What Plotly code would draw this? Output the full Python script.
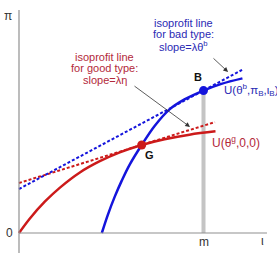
import plotly.graph_objects as go

# ---- data (units: iota horizontally, pi vertically) ----
m = 10.0
red_iota = [0, 0.59, 1.41, 2.22, 3.30, 4.38, 5.46, 6.65, 7.89, 9.24, 10.65]
red_pi = [0, 0.79, 1.71, 2.46, 3.28, 3.89, 4.37, 4.77, 5.08, 5.33, 5.51]
blue_iota = [4.49, 4.81, 5.19, 5.57, 6.0, 6.65, 7.35, 8.16, 8.97, 10.0, 10.97, 12.11]
blue_pi = [0, 0.97, 1.97, 2.84, 3.71, 4.77, 5.80, 6.70, 7.24, 7.72, 8.08, 8.38]
red_iso_iota = [0, 10.62]
red_iso_pi = [2.71, 6.01]
blue_iso_iota = [0, 12.09]
blue_iso_pi = [2.385, 8.84]
point_B = (10.0, 7.72)
point_G = (6.65, 4.77)

RED = "#cc1a1a"
BLUE = "#1414dc"
RED_TXT = "#b3283a"
BLUE_TXT = "#2a2ab4"
FONT = "Liberation Sans, Arial, sans-serif"

s = 18.45  # px per unit
fig = go.Figure()

# gray m line
fig.add_trace(go.Scatter(x=[m, m], y=[0, point_B[1]], mode="lines",
                         line=dict(color="#c4c4c4", width=4), hoverinfo="skip"))
# isoprofit lines
fig.add_trace(go.Scatter(x=red_iso_iota, y=red_iso_pi, mode="lines",
                         line=dict(color=RED, width=2, dash="3px,2px"), hoverinfo="skip"))
fig.add_trace(go.Scatter(x=blue_iso_iota, y=blue_iso_pi, mode="lines",
                         line=dict(color=BLUE, width=2, dash="3px,2px"), hoverinfo="skip"))
# indifference curves
fig.add_trace(go.Scatter(x=blue_iota, y=blue_pi, mode="lines",
                         line=dict(color=BLUE, width=2.5, shape="spline"), hoverinfo="skip"))
fig.add_trace(go.Scatter(x=red_iota, y=red_pi, mode="lines",
                         line=dict(color=RED, width=2.5, shape="spline"), hoverinfo="skip"))
# points
fig.add_trace(go.Scatter(x=[point_B[0]], y=[point_B[1]], mode="markers",
                         marker=dict(color=BLUE, size=9), hoverinfo="skip"))
fig.add_trace(go.Scatter(x=[point_G[0]], y=[point_G[1]], mode="markers",
                         marker=dict(color=RED, size=9), hoverinfo="skip"))

# axes lines
shapes = [
    dict(type="line", x0=0, x1=0, y0=-1.1, y1=12.09, line=dict(color="#909090", width=1.2)),
    dict(type="line", x0=0, x1=13.44, y0=0, y1=0, line=dict(color="#909090", width=1.2)),
]

ann = []
def txt(x, y, t, color, size=11, xanchor="center", bold=False):
    ann.append(dict(x=x, y=y, text=("<b>%s</b>" % t) if bold else t, showarrow=False,
                    xanchor=xanchor, yanchor="middle",
                    font=dict(family=FONT, size=size, color=color)))

for yy, t in zip([9.54, 8.94, 8.29], ["isoprofit line", "for good type:", "slope=λη"]):
    txt(4.66, yy, t, RED_TXT)
for yy, t in zip([11.38, 10.79, 10.14], ["isoprofit line", "for bad type:", "slope=λθ<sup>b</sup>"]):
    txt(8.89, yy, t, BLUE_TXT)
txt(9.70, 8.46, "B", "#111111", size=11, bold=True)
txt(7.10, 4.23, "G", "#111111", size=11, bold=True)
txt(11.0, 7.75, "U(θ<sup>b</sup>,π<sub>B</sub>,ι<sub>B</sub>)", BLUE_TXT, size=11.5, xanchor="left")
txt(10.35, 4.93, "U(θ<sup>g</sup>,0,0)", RED_TXT, size=12, xanchor="left")
txt(-0.6, 11.76, "π", "#333333", size=12)
txt(-0.49, 0.0, "0", "#333333", size=12)
txt(m, -0.49, "m", "#333333", size=12)
txt(13.22, -0.43, "ι", "#333333", size=12)

# arrows
for (tx, ty, hx, hy) in [(6.18, 8.02, 9.27, 5.75), (10.46, 9.54, 11.33, 8.73)]:
    ann.append(dict(x=hx, y=hy, ax=tx, ay=ty, xref="x", yref="y", axref="x", ayref="y",
                    text="", showarrow=True, arrowhead=2, arrowsize=1.2, arrowwidth=0.8,
                    arrowcolor="#333333", standoff=0, font=dict(size=10)))

fig.update_layout(
    width=277, height=253, margin=dict(l=0, r=0, t=0, b=0),
    paper_bgcolor="white", plot_bgcolor="white", showlegend=False,
    xaxis=dict(range=[-19 / s, (277 - 19) / s], visible=False, fixedrange=True),
    yaxis=dict(range=[-(253 - 233) / s, 233 / s], visible=False, fixedrange=True),
    shapes=shapes, annotations=ann,
)
fig.write_html("out.html", config={"displayModeBar": False},
               post_script="document.body.style.margin='0';document.body.style.overflow='hidden';")
